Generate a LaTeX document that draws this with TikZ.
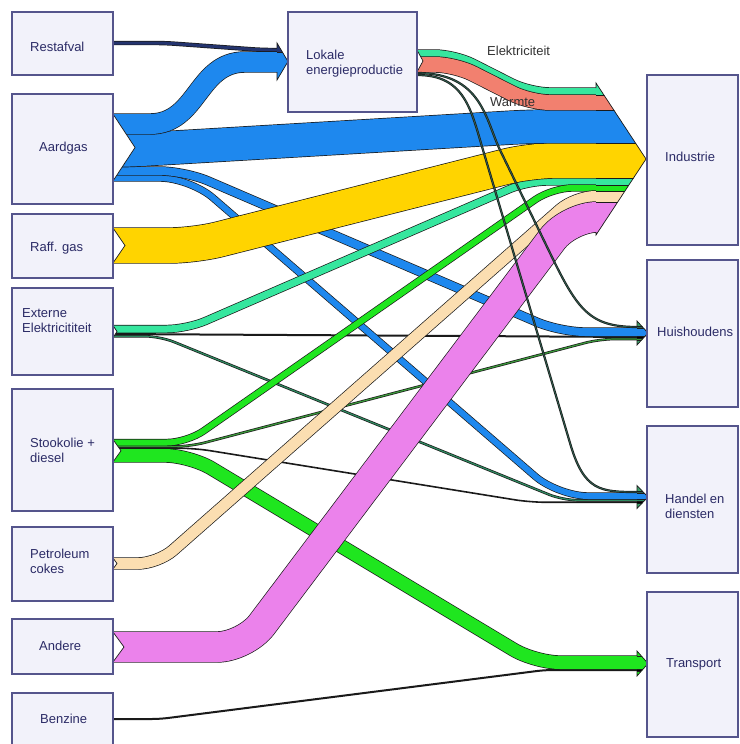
\documentclass[tikz,border=0pt]{standalone}
\usepackage{fontspec}
\setmainfont{Liberation Sans}
\definecolor{cblue}{HTML}{1E88EE}
\definecolor{cyellow}{HTML}{FFD400}
\definecolor{cmint}{HTML}{36E69E}
\definecolor{csalmon}{HTML}{F2806F}
\definecolor{cgreen}{HTML}{1FE61F}
\definecolor{cbeige}{HTML}{FBDEB1}
\definecolor{cviolet}{HTML}{EB82EB}
\definecolor{cnavy}{HTML}{24346E}
\definecolor{cdteal}{HTML}{2E8A60}
\definecolor{cdgreen}{HTML}{3A9A3A}
\definecolor{clok}{HTML}{2F5F4F}
\definecolor{cbarb}{HTML}{3DA06A}
\definecolor{edgecol}{HTML}{1A1A1A}
\definecolor{boxfill}{HTML}{F2F2FA}
\definecolor{boxdraw}{HTML}{55558C}
\definecolor{boxtext}{HTML}{2B2B66}
\definecolor{lbltext}{HTML}{333333}
\newcommand{\sband}[4]{%
  \draw[line width={#2pt+1.4pt}, draw=edgecol, rounded corners=#3pt] #4;%
  \draw[line width=#2pt, draw=#1, rounded corners=#3pt] #4;}
\begin{document}
\begin{tikzpicture}[x=1pt,y=-1pt,
  box/.style={draw=boxdraw, fill=boxfill, line width=1.2pt, inner sep=0pt, outer sep=0pt, anchor=north west},
  txt/.style={font=\fontsize{13}{15}\selectfont, text=boxtext, inner sep=0pt, align=left, anchor=west},
  flowlbl/.style={font=\fontsize{13}{15}\selectfont, text=lbltext, inner sep=0pt, anchor=west},
  edge/.style={draw=edgecol, line width=0.7pt},
  strip/.style={draw=edgecol, line width=0.6pt}]
\useasboundingbox (0,0) rectangle (739,744);
\fill[white] (0,0) rectangle (739,744);
\clip (0,0) rectangle (739,744);

% ports
\coordinate (rsA) at (113,43);
\coordinate (agL) at (113,124);
\coordinate (agI) at (113,150.5);
\coordinate (agH) at (113,171);
\coordinate (agD) at (113,178);
\coordinate (rgI) at (113,245.5);
\coordinate (exI) at (113,329);
\coordinate (exH) at (113,334);
\coordinate (exD) at (113,336.25);
\coordinate (skI) at (113,442.5);
\coordinate (skH) at (113,446.5);
\coordinate (skD) at (113,448.25);
\coordinate (skT) at (113,455.5);
\coordinate (pcI) at (113,563.5);
\coordinate (anI) at (113,647);
\coordinate (bzT) at (113,719);
\coordinate (loE) at (417,53.5);
\coordinate (loW) at (417,64.5);
\coordinate (loH) at (417,73);
\coordinate (loD) at (417,75);
\coordinate (lkR) at (277.5,50);
\coordinate (lkA) at (277.5,62);
\coordinate (inE) at (596.5,91.5);
\coordinate (inW) at (596.5,102.5);
\coordinate (inA) at (596.5,126.5);
\coordinate (inR) at (596.5,160.5);
\coordinate (inX) at (596.5,181.5);
\coordinate (inS) at (596.5,188);
\coordinate (inP) at (596.5,196.5);
\coordinate (inN) at (596.5,217);
\coordinate (huL) at (637.5,327);
\coordinate (huA) at (637.5,332);
\coordinate (huX) at (637.5,337);
\coordinate (huS) at (637.5,339);
\coordinate (haL) at (637.5,492);
\coordinate (haA) at (637.5,496);
\coordinate (haX) at (637.5,500.25);
\coordinate (haS) at (637.5,502.25);
\coordinate (trS) at (637.5,662.5);
\coordinate (trB) at (637.5,670);

% thin lines
\draw[edgecol, line width=2pt] (exH) -- (huX);
\draw[edgecol, line width=1.6pt, rounded corners=15pt] (skD) -- (195,448.25) -- (530,502.25) -- (haS);
\draw[edgecol, line width=2pt, rounded corners=8pt] (bzT) -- (160,719) -- (545,670) -- (trB);
\sband{cdteal}{1.2}{15}{(exD) -- (160,336.25) -- (563,500.25) -- (haX)}
\sband{cdgreen}{1.2}{15}{(skH) -- (190,446.5) -- (600,339) -- (huS)}
\sband{cnavy}{3}{10}{(rsA) -- (165,43) -- (262,50) -- (lkR)}

% blue thin bands
\sband{cblue}{6}{30}{(agD) -- (190,178) -- (558,496) -- (haA)}
\sband{cblue}{8}{25}{(agH) -- (185,171) -- (560,332) -- (huA)}

% teal and thin green
\sband{cmint}{7}{20}{(exI) -- (187,329) -- (527,181.5) -- (inX)}
\sband{cgreen}{6}{20}{(skI) -- (187,442.5) -- (552,188) -- (inS)}

% transport green
\sband{cgreen}{13}{25}{(skT) -- (190,455.5) -- (535,662.5) -- (trS)}

% beige
\sband{cbeige}{11}{20}{(pcI) -- (158,563.5) -- (575,196.5) -- (inP)}

% yellow
\sband{cyellow}{35}{25}{(rgI) -- (195,245.5) -- (530,160.5) -- (inR)}

% aardgas main and to Lokale
\sband{cblue}{33}{20}{(agI) -- (125,150.5) -- (530,126.5) -- (inA)}
\sband{cblue}{20}{0}{(agL) -- (150,124) .. controls (198,124) and (197,62) .. (245,62) -- (lkA)}

% Lokale outputs
\sband{cmint}{7}{20}{(loE) -- (455,53.5) -- (530,91.5) -- (inE)}
\sband{csalmon}{15}{20}{(loW) -- (455,64.5) -- (530,102.5) -- (inW)}

% violet
\sband{cviolet}{30}{28}{(anI) -- (245,647) -- (569,217) -- (inN)}

% Lokale dark lines
\sband{clok}{0.8}{0}{(loH) .. controls (482,73) and (485.5,120) .. (500,150) -- (550,253) .. controls (578,311) and (590,327) .. (huL)}
\sband{clok}{0.8}{0}{(loD) .. controls (465,75) and (471,110) .. (483,150) -- (570,443) .. controls (584,491) and (600,492) .. (haL)}

% arrowheads
\begin{scope}
\clip (596,83) -- (646,159) -- (596,235) -- cycle;
\foreach \c/\a/\b in {cmint/78/95, csalmon/95/110, cblue/110/143, cyellow/143/178, cmint/178/185, cgreen/185/191, cbeige/191/202, cviolet/202/240}
  \filldraw[strip, fill=\c] (590,\a) rectangle (655,\b);
\end{scope}
\draw[edge] (596,88) -- (596,83) -- (646,159) -- (596,235) -- (596,232);

\begin{scope}
\clip (277,43) -- (288,61.5) -- (277,80) -- cycle;
\filldraw[strip, fill=cnavy] (270,38) rectangle (295,52);
\filldraw[strip, fill=cblue] (270,52) rectangle (295,86);
\end{scope}
\draw[edge] (277,48) -- (277,43) -- (288,61.5) -- (277,80) -- (277,72);

\begin{scope}
\clip (637,321) -- (648,333) -- (637,345) -- cycle;
\fill[cbarb] (630,316) rectangle (655,350);
\filldraw[strip, fill=clok] (630,326) rectangle (655,328);
\filldraw[strip, fill=cblue] (630,328) rectangle (655,336);
\filldraw[strip, fill=black] (630,336) rectangle (655,338);
\filldraw[strip, fill=cdgreen] (630,338) rectangle (655,340);
\end{scope}
\draw[edge] (637,326) -- (637,321) -- (648,333) -- (637,345) -- (637,340);

\begin{scope}
\clip (637,485.5) -- (648,497) -- (637,508.5) -- cycle;
\fill[cbarb] (630,480) rectangle (655,514);
\filldraw[strip, fill=clok] (630,491) rectangle (655,493);
\filldraw[strip, fill=cblue] (630,493) rectangle (655,499);
\filldraw[strip, fill=cdteal] (630,499) rectangle (655,501.5);
\filldraw[strip, fill=black] (630,501.5) rectangle (655,503);
\end{scope}
\draw[edge] (637,491) -- (637,485.5) -- (648,497) -- (637,508.5) -- (637,503);

\begin{scope}
\clip (637,651) -- (648,663.5) -- (637,676) -- cycle;
\fill[cgreen] (630,645) rectangle (655,682);
\filldraw[strip, fill=cgreen] (630,656) rectangle (655,669);
\filldraw[strip, fill=black] (630,669) rectangle (655,671);
\end{scope}
\draw[edge] (637,656) -- (637,651) -- (648,663.5) -- (637,676) -- (637,671);

% notches
\foreach \t/\m/\b in {114/135/181, 228/125/263, 325.5/117/337.5, 439.5/121/462, 558/117/569, 632/124/662}{
  \fill[white] (113,\t) -- (\m,{(\t+\b)/2}) -- (113,\b) -- cycle;
  \draw[edge] (113,\t) -- (\m,{(\t+\b)/2}) -- (113,\b);
}
\fill[white] (417,50) -- (423,61) -- (417,72) -- cycle;
\draw[edge] (417,50) -- (423,61) -- (417,72);

% boxes
\node[box, minimum width=101pt, minimum height=63pt] (restafval) at (12,12) {};
\node[box, minimum width=101pt, minimum height=110pt] (aardgas) at (12,94) {};
\node[box, minimum width=101pt, minimum height=64pt] (raffgas) at (12,214) {};
\node[box, minimum width=101pt, minimum height=87pt] (externe) at (12,288) {};
\node[box, minimum width=101pt, minimum height=122pt] (stookolie) at (12,389) {};
\node[box, minimum width=101pt, minimum height=74pt] (petroleum) at (12,527) {};
\node[box, minimum width=101pt, minimum height=55pt] (andere) at (12,619) {};
\node[box, minimum width=101pt, minimum height=70pt] (benzine) at (12,693) {};
\node[box, minimum width=129pt, minimum height=100pt] (lokale) at (288,12) {};
\node[box, minimum width=91pt, minimum height=170pt] (industrie) at (647,75) {};
\node[box, minimum width=91pt, minimum height=147pt] (huishoudens) at (647,260) {};
\node[box, minimum width=91pt, minimum height=147pt] (handel) at (647,426) {};
\node[box, minimum width=91pt, minimum height=145pt] (transport) at (647,592) {};

% texts
\node[txt] (t-restafval) at (30,46.5) {Restafval};
\node[txt] (t-aardgas) at (39,148) {Aardgas};
\node[txt] (t-raffgas) at (30,248) {Raff. gas};
\node[txt] (t-externe) at (22,321) {Externe\\Elektricititeit};
\node[txt] (t-stookolie) at (30,450.5) {Stookolie +\\diesel};
\node[txt] (t-petroleum) at (30,561) {Petroleum\\cokes};
\node[txt] (t-andere) at (39,646) {Andere};
\node[txt] (t-benzine) at (40,719) {Benzine};
\node[txt] (t-lokale) at (306,64) {Lokale\\energieproductie};
\node[txt] (t-industrie) at (665,157) {Industrie};
\node[txt] (t-huishoudens) at (657,332) {Huishoudens};
\node[txt] (t-handel) at (665,506) {Handel en\\diensten};
\node[txt] (t-transport) at (666,664) {Transport};
\node[flowlbl] (l-elek) at (487,51) {Elektriciteit};
\node[flowlbl] (l-warmte) at (490,102) {Warmte};
\end{tikzpicture}
\end{document}
